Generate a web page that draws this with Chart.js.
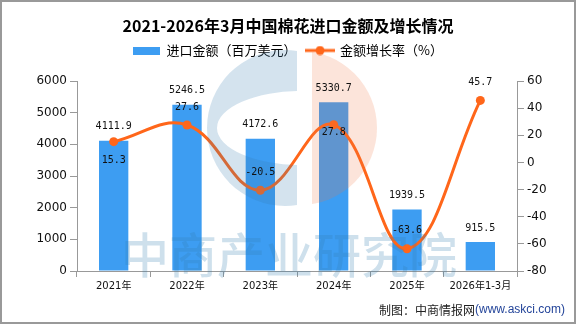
<!DOCTYPE html>
<html>
<head>
<meta charset="utf-8">
<title>2021-2026年3月中国棉花进口金额及增长情况</title>
<script src="https://cdn.jsdelivr.net/npm/chart.js@4.4.1/dist/chart.umd.min.js"></script>
<style>
  html, body { margin: 0; padding: 0; background: #fff; }
  canvas { display: block; }
</style>
</head>
<body>
<canvas id="chart" width="576" height="325"></canvas>
<script>
// data
const years = ['2021年', '2022年', '2023年', '2024年', '2025年', '2026年1-3月'];
const importValue = [4111.9, 5246.5, 4172.6, 5330.7, 1939.5, 915.5];
const growthRate = [15.3, 27.6, -20.5, 27.8, -63.6, 45.7];
const leftTicks = [0, 1000, 2000, 3000, 4000, 5000, 6000];
const rightTicks = [-80, -60, -40, -20, 0, 20, 40, 60];

const BAR_BLUE = '#3d9df2';
const LINE_ORANGE = '#ff661a';
const AXIS_GREY = '#999';
const CJK = "'Noto Sans CJK SC'";

// label offsets for the growth line (px, + is below the point)
const rateLabelDy = [19, -18, -18, 8, -18, -18];

function legendIcon(kind) {
  const c = document.createElement('canvas');
  if (kind === 'bar') {
    c.width = 27; c.height = 8;
    const g = c.getContext('2d');
    g.fillStyle = BAR_BLUE;
    g.fillRect(0, 0, 27, 8);
  } else {
    c.width = 30; c.height = 10;
    const g = c.getContext('2d');
    g.strokeStyle = LINE_ORANGE;
    g.lineWidth = 3;
    g.beginPath(); g.moveTo(0, 5); g.lineTo(30, 5); g.stroke();
    g.fillStyle = LINE_ORANGE;
    g.beginPath(); g.arc(15, 5, 4.5, 0, Math.PI * 2); g.fill();
  }
  return c;
}

const legendSpacer = {
  id: 'legendSpacer',
  beforeInit(chart) {
    const fit = chart.legend.fit;
    chart.legend.fit = function () {
      fit.bind(chart.legend)();
      this.height += 14;
    };
  },
};

const watermark = {
  id: 'watermark',
  afterDatasetsDraw(chart) {
    const { ctx } = chart;
    ctx.save();
    // blue "G"
    ctx.save();
    ctx.beginPath();
    ctx.rect(0, 0, 297, 325);
    ctx.clip();
    ctx.beginPath();
    ctx.arc(285, 128, 78, 0, Math.PI * 2);
    ctx.ellipse(302, 128, 85, 37, 0, 0, Math.PI * 2);
    ctx.fillStyle = 'rgba(50,124,175,0.21)';
    ctx.fill('evenodd');
    ctx.restore();
    // orange half disc
    ctx.save();
    ctx.beginPath();
    ctx.rect(312, 0, 200, 325);
    ctx.clip();
    ctx.beginPath();
    ctx.arc(300, 128, 77, 0, Math.PI * 2);
    ctx.fillStyle = 'rgba(240,120,70,0.2)';
    ctx.fill();
    ctx.restore();
    // text mark
    ctx.font = `500 48px ${CJK}`;
    ctx.fillStyle = 'rgba(50,124,175,0.24)';
    ctx.textAlign = 'center';
    ctx.textBaseline = 'middle';
    ctx.fillText('中商产业研究院', 289, 255);
    ctx.restore();
  },
};

const valueLabels = {
  id: 'valueLabels',
  afterDraw(chart) {
    const { ctx } = chart;
    ctx.save();
    ctx.font = "10px 'DejaVu Sans Mono'";
    ctx.fillStyle = '#111';
    ctx.textAlign = 'center';
    ctx.textBaseline = 'middle';
    chart.getDatasetMeta(1).data.forEach((bar, i) => {
      ctx.fillText(importValue[i].toFixed(1), bar.x, bar.y - 14);
    });
    chart.getDatasetMeta(0).data.forEach((pt, i) => {
      ctx.fillText(growthRate[i].toFixed(1), pt.x, pt.y + rateLabelDy[i]);
    });

    // source note
    const url = '(www.askci.com)';
    ctx.textAlign = 'left';
    ctx.font = "12px 'Liberation Sans'";
    const urlW = ctx.measureText(url).width;
    ctx.font = `12px ${CJK}`;
    const noteW = ctx.measureText('制图：中商情报网').width;
    const x0 = 565 - urlW - noteW;
    ctx.fillStyle = '#222';
    ctx.fillText('制图：中商情报网', x0, 310);
    ctx.font = "12px 'Liberation Sans'";
    ctx.fillStyle = '#24459a';
    ctx.fillText(url, x0 + noteW, 310);

    // frame
    ctx.strokeStyle = '#999';
    ctx.lineWidth = 2;
    ctx.strokeRect(1, 1, 574, 322);
    ctx.restore();
  },
};

new Chart(document.getElementById('chart'), {
  data: {
    labels: years,
    datasets: [
      {
        type: 'line',
        label: '金额增长率（%）',
        data: growthRate,
        yAxisID: 'y1',
        borderColor: LINE_ORANGE,
        backgroundColor: LINE_ORANGE,
        borderWidth: 3,
        pointRadius: 4.5,
        pointBackgroundColor: LINE_ORANGE,
        pointBorderWidth: 0,
        tension: 0.4,
        order: 0,
      },
      {
        type: 'bar',
        label: '进口金额（百万美元）',
        data: importValue,
        yAxisID: 'y',
        backgroundColor: BAR_BLUE,
        barPercentage: 0.5,
        categoryPercentage: 0.8,
        order: 1,
      },
    ],
  },
  options: {
    responsive: false,
    animation: false,
    layout: { padding: { left: 0, right: 0, top: 0, bottom: 24 } },
    plugins: {
      tooltip: { enabled: false },
      title: {
        display: true,
        text: '2021-2026年3月中国棉花进口金额及增长情况',
        color: '#000',
        font: { family: CJK, size: 16, weight: 'bold', lineHeight: 1 },
        padding: { top: 18, bottom: 0 },
      },
      legend: {
        display: true,
        labels: {
          color: '#111',
          font: { family: CJK, size: 13 },
          usePointStyle: true,
          pointStyleWidth: 27,
          padding: 10,
          generateLabels: () => [
            { text: '进口金额（百万美元）', pointStyle: legendIcon('bar'), fillStyle: BAR_BLUE, strokeStyle: BAR_BLUE, lineWidth: 0, hidden: false, datasetIndex: 1 },
            { text: '金额增长率（%）', pointStyle: legendIcon('line'), fillStyle: LINE_ORANGE, strokeStyle: LINE_ORANGE, lineWidth: 0, hidden: false, datasetIndex: 0 },
          ],
        },
      },
    },
    scales: {
      x: {
        offset: true,
        grid: { display: true, offset: true, drawOnChartArea: false, drawTicks: true, tickLength: 6, color: AXIS_GREY },
        border: { display: true, color: AXIS_GREY },
        ticks: { color: '#111', font: { family: `'DejaVu Sans', ${CJK}`, size: 10 }, padding: 3, maxRotation: 0, autoSkip: false },
        afterFit(scale) { scale.height = 30; },
      },
      y: {
        position: 'left',
        min: leftTicks[0],
        max: leftTicks[leftTicks.length - 1],
        ticks: {
          stepSize: leftTicks[1] - leftTicks[0],
          callback: v => String(v),
          color: '#111',
          font: { family: "'DejaVu Sans'", size: 12 },
          padding: 3,
        },
        grid: { display: true, drawOnChartArea: false, drawTicks: true, tickLength: 7, color: AXIS_GREY },
        border: { display: true, color: AXIS_GREY },
        afterFit(scale) { scale.width = 77; },
      },
      y1: {
        position: 'right',
        min: rightTicks[0],
        max: rightTicks[rightTicks.length - 1],
        ticks: {
          stepSize: rightTicks[1] - rightTicks[0],
          callback: v => String(v),
          color: '#111',
          font: { family: "'DejaVu Sans'", size: 12 },
          padding: 3,
        },
        grid: { display: true, drawOnChartArea: false, drawTicks: true, tickLength: 7, color: AXIS_GREY },
        border: { display: true, color: AXIS_GREY },
        afterFit(scale) { scale.width = 59; },
      },
    },
  },
  plugins: [legendSpacer, watermark, valueLabels],
});
</script>
</body>
</html>
